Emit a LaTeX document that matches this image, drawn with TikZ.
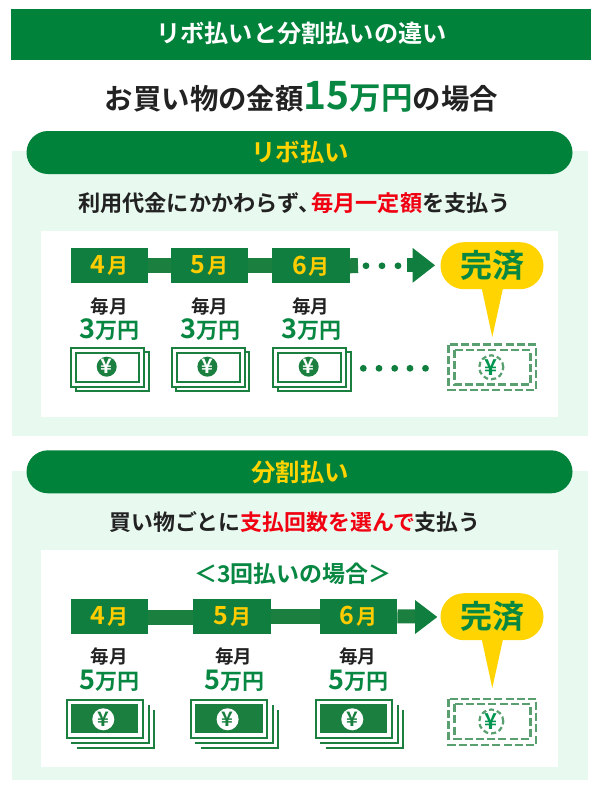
\documentclass[tikz,border=0pt]{standalone}
\usepackage{fontspec}
\setmainfont{Noto Sans CJK JP}[BoldFont={Noto Sans CJK JP Bold}]
\definecolor{titleg}{HTML}{00823A}
\definecolor{boxg}{HTML}{107E3E}
\definecolor{lineg}{HTML}{1B7F40}
\definecolor{billg}{HTML}{1A7F3F}
\definecolor{textg}{HTML}{078742}
\definecolor{panelg}{HTML}{E8F9EF}
\definecolor{dashg}{HTML}{5A9F70}
\definecolor{yenG}{HTML}{009650}
\definecolor{ylw}{HTML}{FFD400}
\definecolor{mony}{HTML}{FFCC00}
\definecolor{dark}{HTML}{222222}
\definecolor{redt}{HTML}{F00010}
\newcommand{\fsz}[1]{\fontsize{#1}{#1}\selectfont}
\newcommand{\mon}[1]{{\fsz{25}#1}\hspace{2pt}{\fsz{21}月}}
\newcommand{\amt}[1]{{\fsz{27}#1}{\fsz{22}万円}}
\tikzset{
  txt/.style={inner sep=0pt,outer sep=0pt,font=\bfseries,text=dark},
  panel/.style={fill=panelg,draw=none},
  whitebox/.style={fill=white,draw=none},
  pill/.style={fill=titleg,draw=none,rounded corners=21.5pt},
  monthbox/.style={fill=boxg,draw=none,minimum height=35pt,inner sep=0pt,outer sep=0pt,font=\bfseries,text=mony},
  bar/.style={draw=lineg,line width=15pt},
  bubble/.style={fill=ylw,draw=none,rounded rectangle,minimum width=103pt,minimum height=47pt,inner sep=0pt,outer sep=0pt,font=\bfseries\fsz{32},text=textg},
  dotn/.style={circle,fill=boxg,draw=none,minimum size=6.8pt,inner sep=0pt},
  billline/.style={draw=billg,line width=2pt},
  dashline/.style={draw=dashg,line width=2.2pt,dash pattern=on 8pt off 3.2pt},
}
\usetikzlibrary{shapes.misc}
\begin{document}
\begin{tikzpicture}[x=1pt,y=-1pt]
\useasboundingbox (0,0) rectangle (600,790);
\fill[white] (0,0) rectangle (600,790);
% title
\fill[titleg] (10.5,9) rectangle (591,59.5);
\node[txt,text=white,font=\bfseries\fsz{24.2}] (title) at (301.5,33.8) {リボ払いと分割払いの違い};
\node[txt,font=\bfseries\fsz{28.4}] (sub) at (301.5,96.5) {お買い物の金額\textcolor{textg}{{\fsz{39}15}{\fsz{31.5}万円}}の場合};
% panels
\fill[panel] (12,151) rectangle (588,436);
\fill[panel] (12,471) rectangle (588,780);
\fill[whitebox] (41,231) rectangle (558,417);
\fill[whitebox] (41,550) rectangle (558,767);
\fill[pill] (26.5,131) rectangle (572.5,174);
\fill[pill] (26.5,450.3) rectangle (572.5,493.3);
\node[txt,text=ylw,font=\bfseries\fsz{24.4}] (h1) at (300,152.3) {リボ払い};
\node[txt,text=ylw,font=\bfseries\fsz{24.4}] (h2) at (300,472.3) {分割払い};
\node[txt,font=\bfseries\fsz{22.2}] (d1) at (294.5,203.3) {利用代金にかかわらず、\hspace{-9pt}\textcolor{redt}{毎月一定額}を支払う};
\node[txt,font=\bfseries\fsz{21.9}] (d2) at (295,522.5) {買い物ごとに\textcolor{redt}{支払回数を選んで}支払う};
\node[txt,text=textg,font=\bfseries\fsz{23}] (d3) at (293,573.3) {＜3回払いの場合＞};
% section 1 months
\foreach \n/\cx/\m in {a/109.5/4,b/209.5/5,c/311/6}{
  \node[monthbox,minimum width=77.5pt] (\n) at (\cx,265.8) {\raisebox{-0.8pt}{\mon{\m}}};
}
\draw[bar] (a.east) -- (b.west);
\draw[bar] (b.east) -- (c.west);
\coordinate (cs) at (358,265.5);
\draw[bar] (c.east) -- (cs);
\foreach \i/\x in {1/366,2/382,3/398}{\node[dotn] (pd\i) at (\x,265.8) {};}
\coordinate (as) at (407,265.3);
\coordinate (at) at (435,265.3);
\draw[draw=boxg,line width=14pt] (as) -- (413,265.3);
\fill[boxg] (412.7,248) -- (at) -- (412.7,282.7) -- cycle;
% section 1 bubble
\node[bubble] (b1) at (492,265.7) {完済};
\coordinate (t1) at (492.3,337);
\fill[ylw] (481,285) -- (503.7,285) -- (t1) -- cycle;
% section 1 payment
\foreach \n/\cx in {p/109,q/209.5,r/310.5}{
  \node[txt,font=\bfseries\fsz{18.5}] (\n m) at (\cx,306.8) {毎月};
  \node[txt,text=textg] (\n a) at (\cx+0.8,329.6) {\amt{3}};
}
% small bills
\foreach \n/\dx in {0/0,1/100.7,2/202}{
\begin{scope}[xshift=\dx pt]
  \draw[billline,fill=white] (75.5,352) rectangle (148.7,391);
  \draw[billline,fill=white] (71,348) rectangle (144,386.5);
  \draw[billline] (76,353) rectangle (139,381.5);
  \node[circle,fill=billg,minimum size=20pt,inner sep=0pt,text=white,font=\bfseries\fsz{20}] (sb\n) at (106.7,366.7) {¥};
\end{scope}}
\foreach \i/\x in {1/363.3,2/379,3/394.7,4/410,5/425.5}{\node[dotn] (pe\i) at (\x,368.3) {};}
% dashed bill 1
\draw[dashline] (448.5,344.5) rectangle (536,390.3);
\draw[dashline] (454.5,350) rectangle (530.5,384.5);
\draw[dashline,dash pattern=on 5pt off 3pt] (491.3,367.3) circle (12pt);
\node[txt,text=yenG,font=\bfseries\fsz{22}] (y1) at (491.3,367.3) {¥};
% section 2 months
\foreach \n/\cx/\m in {d/109.7/4,e/232.2/5,f/358.7/6}{
  \node[monthbox,minimum width=77.5pt] (\n) at (\cx,616.3) {\raisebox{-0.8pt}{\mon{\m}}};
}
\draw[bar] ([yshift=-1pt]d.east) -- ([yshift=-1pt]e.west);
\draw[bar] (e.east) -- (f.west);
\coordinate (fs) at (416,616.5);
\draw[draw=lineg,line width=14pt] (f.east) -- (fs);
\coordinate (ft) at (437.3,617);
\fill[boxg] (415,600) -- (ft) -- (415,634) -- cycle;
% section 2 bubble
\node[bubble] (b2) at (492,616.7) {完済};
\coordinate (t2) at (492.3,688);
\fill[ylw] (481,636) -- (503.7,636) -- (t2) -- cycle;
\foreach \n/\cx in {u/109,v/233.5,w/357.7}{
  \node[txt,font=\bfseries\fsz{18.5}] (\n m) at (\cx,656.8) {毎月};
  \node[txt,text=textg] (\n a) at (\cx+0.8,680.6) {\amt{5}};
}
% big bills
\foreach \n/\dx in {0/0,1/124.3,2/249}{
\begin{scope}[xshift=\dx pt]
  \draw[billline,line cap=butt] (76.7,748) -- (153.5,748) -- (153.5,710);
  \draw[billline,line cap=butt] (71,742.7) -- (148.5,742.7) -- (148.5,705);
  \draw[billline,fill=white] (66.5,699.8) rectangle (142.5,737.8);
  \fill[billg] (70.7,704) rectangle (138.3,733.3);
  \node[circle,fill=white,minimum size=22pt,inner sep=0pt,text=billg,font=\bfseries\fsz{20}] (bb\n) at (103.3,719.3) {¥};
\end{scope}}
% dashed bill 2
\draw[dashline] (448.5,698.8) rectangle (536,744.6);
\draw[dashline] (454.5,704.2) rectangle (530.5,738.7);
\draw[dashline,dash pattern=on 5pt off 3pt] (491.3,721.5) circle (12pt);
\node[txt,text=yenG,font=\bfseries\fsz{22}] (y2) at (491.3,721.5) {¥};
\end{tikzpicture}
\end{document}
